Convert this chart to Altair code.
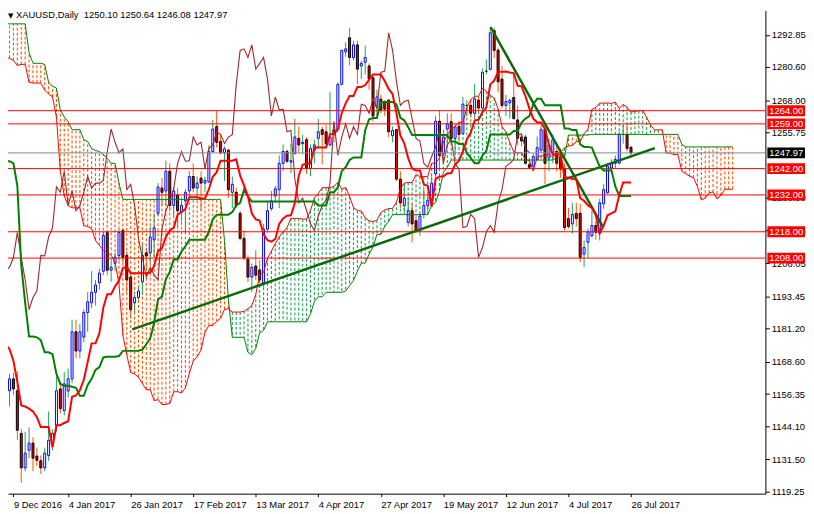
import altair as alt
import numpy as np
import pandas as pd

# ---------------- data (XAUUSD daily, bar 0 = 9 Dec 2016) ----------------
opens = [1170.7, 1157.6, 1162.1, 1157.6, 1141.4, 1128.3, 1135.0, 1137.7, 1132.8, 1131.0,
         1128.3, 1133.0, 1137.0, 1144.5, 1158.3, 1150.0, 1157.5, 1162.1, 1180.0, 1172.7,
         1178.0, 1187.3, 1191.0, 1195.0, 1198.6, 1203.0, 1217.7, 1203.4, 1206.0, 1209.0,
         1218.5, 1209.0, 1200.8, 1191.0, 1193.0, 1199.0, 1210.0, 1210.0, 1215.0, 1225.0,
         1234.6, 1233.5, 1241.0, 1228.0, 1232.0, 1225.5, 1229.7, 1233.5, 1239.0, 1234.6,
         1238.4, 1236.5, 1236.9, 1248.5, 1258.0, 1252.3, 1248.0, 1249.0, 1233.0, 1233.0,
         1225.0, 1215.5, 1207.6, 1200.8, 1205.0, 1203.5, 1198.6, 1219.0, 1226.8, 1231.6,
         1234.0, 1244.0, 1248.5, 1244.5, 1247.7, 1253.5, 1251.5, 1253.0, 1242.0, 1249.0,
         1253.5, 1256.8, 1256.0, 1251.0, 1256.8, 1256.8, 1274.0, 1286.4, 1291.7, 1284.2,
         1289.0, 1281.0, 1282.4, 1281.0, 1276.5, 1265.4, 1268.4, 1267.3, 1268.0, 1254.5,
         1256.8, 1238.0, 1227.9, 1221.5, 1226.0, 1222.2, 1218.5, 1224.6, 1227.9, 1230.5,
         1240.0, 1260.0, 1247.7, 1257.0, 1259.8, 1253.5, 1258.0, 1255.3, 1266.0, 1266.0,
         1263.0, 1268.0, 1265.0, 1279.0, 1279.7, 1294.4, 1287.0, 1276.0, 1266.0, 1267.0,
         1269.0, 1260.5, 1254.0, 1254.0, 1243.5, 1243.0, 1245.5, 1249.0, 1257.0, 1246.0,
         1248.0, 1248.5, 1246.6, 1242.0, 1223.0, 1221.0, 1225.0, 1225.0, 1209.5, 1214.0,
         1216.5, 1220.4, 1217.4, 1228.6, 1232.8, 1242.2, 1244.0, 1244.1, 1255.0, 1254.9,
         1250.10]
highs = [1172.5, 1164.0, 1164.5, 1165.0, 1143.0, 1142.0, 1143.7, 1140.0, 1136.0, 1133.0,
         1136.0, 1149.7, 1143.0, 1163.0, 1161.0, 1164.7, 1166.0, 1184.6, 1184.6, 1183.0,
         1188.5, 1195.0, 1203.0, 1199.7, 1204.0, 1218.0, 1218.5, 1208.0, 1210.0, 1219.0,
         1219.5, 1210.5, 1202.0, 1194.0, 1197.0, 1213.0, 1212.0, 1220.0, 1224.9, 1236.5,
         1238.5, 1245.0, 1244.0, 1235.0, 1234.6, 1231.0, 1234.2, 1241.0, 1244.0, 1239.0,
         1241.0, 1239.0, 1251.0, 1260.5, 1264.0, 1254.9, 1250.4, 1249.6, 1239.0, 1234.6,
         1226.0, 1218.5, 1209.1, 1206.0, 1211.0, 1207.2, 1221.0, 1229.7, 1233.5, 1235.5,
         1247.0, 1251.2, 1249.3, 1251.5, 1260.9, 1257.9, 1254.9, 1254.0, 1251.2, 1253.0,
         1260.9, 1257.9, 1258.5, 1271.1, 1258.0, 1274.8, 1287.2, 1290.0, 1295.5, 1290.6,
         1290.6, 1283.0, 1288.7, 1282.0, 1278.0, 1272.0, 1270.0, 1268.0, 1268.5, 1258.0,
         1257.0, 1241.0, 1236.1, 1231.0, 1228.6, 1224.5, 1225.0, 1234.2, 1232.0, 1239.1,
         1262.0, 1264.0, 1256.8, 1263.0, 1263.0, 1259.0, 1260.0, 1269.2, 1268.0, 1268.0,
         1274.1, 1269.5, 1280.0, 1283.5, 1296.0, 1295.5, 1288.0, 1281.0, 1270.0, 1268.5,
         1278.0, 1266.0, 1255.5, 1254.9, 1246.0, 1247.8, 1254.2, 1258.5, 1258.7, 1253.4,
         1255.0, 1251.5, 1249.6, 1244.0, 1227.1, 1229.0, 1229.0, 1228.6, 1214.7, 1219.2,
         1226.0, 1222.0, 1230.5, 1236.1, 1244.0, 1245.5, 1247.0, 1256.0, 1258.7, 1258.7,
         1250.64]
lows = [1155.5, 1151.6, 1156.0, 1138.8, 1122.6, 1127.0, 1132.0, 1127.0, 1129.0, 1126.0,
        1127.0, 1131.0, 1135.0, 1142.0, 1149.0, 1148.2, 1155.0, 1160.5, 1170.0, 1170.0,
        1176.0, 1180.0, 1189.0, 1190.0, 1196.0, 1201.5, 1201.5, 1199.0, 1203.0, 1207.0,
        1206.0, 1195.0, 1185.0, 1187.0, 1192.0, 1194.0, 1204.0, 1206.0, 1208.3, 1224.0,
        1228.0, 1228.0, 1226.0, 1224.0, 1219.2, 1222.0, 1217.3, 1231.0, 1233.0, 1230.0,
        1226.0, 1233.0, 1236.5, 1248.0, 1250.0, 1247.4, 1237.3, 1230.8, 1227.0, 1227.1,
        1214.7, 1207.2, 1198.9, 1195.0, 1199.7, 1198.5, 1197.0, 1217.7, 1226.0, 1229.0,
        1227.0, 1241.0, 1244.0, 1240.3, 1247.4, 1247.8, 1247.4, 1240.0, 1239.1, 1244.0,
        1249.6, 1243.6, 1250.5, 1250.5, 1252.0, 1256.0, 1273.7, 1284.5, 1281.2, 1283.1,
        1274.1, 1276.0, 1277.8, 1272.0, 1260.0, 1262.0, 1263.0, 1262.0, 1254.0, 1252.0,
        1237.3, 1227.1, 1225.2, 1220.0, 1214.0, 1217.5, 1216.5, 1223.0, 1226.0, 1227.9,
        1237.0, 1242.0, 1246.6, 1250.5, 1251.5, 1247.0, 1252.0, 1254.9, 1262.0, 1261.5,
        1261.7, 1264.0, 1262.8, 1277.8, 1279.3, 1284.0, 1271.0, 1265.0, 1262.0, 1261.0,
        1260.6, 1251.0, 1250.5, 1243.5, 1241.8, 1241.0, 1245.0, 1248.0, 1236.1, 1241.0,
        1244.0, 1241.0, 1238.4, 1218.5, 1219.2, 1217.3, 1220.0, 1206.5, 1204.5, 1208.0,
        1215.8, 1215.0, 1214.7, 1226.7, 1232.4, 1241.0, 1242.0, 1243.6, 1251.5, 1248.5,
        1246.08]
closes = [1157.2, 1162.1, 1158.3, 1142.6, 1128.3, 1133.9, 1137.7, 1132.0, 1131.2, 1128.3,
          1133.9, 1138.8, 1141.4, 1157.6, 1150.8, 1160.2, 1162.1, 1180.0, 1172.7, 1180.0,
          1187.3, 1191.4, 1195.0, 1197.8, 1202.3, 1216.6, 1203.4, 1204.5, 1208.3, 1217.7,
          1208.3, 1199.7, 1188.4, 1193.0, 1195.5, 1209.0, 1208.8, 1216.0, 1219.5, 1235.0,
          1233.0, 1241.0, 1228.0, 1233.5, 1226.0, 1228.0, 1233.0, 1239.0, 1234.6, 1236.5,
          1236.5, 1237.5, 1248.5, 1257.0, 1252.0, 1248.0, 1249.5, 1234.0, 1236.0, 1228.0,
          1215.5, 1208.0, 1200.8, 1204.5, 1201.5, 1199.7, 1219.0, 1226.0, 1229.7, 1234.3,
          1244.0, 1248.5, 1244.8, 1245.0, 1254.0, 1251.0, 1252.0, 1242.0, 1249.6, 1251.0,
          1256.0, 1255.0, 1251.5, 1254.0, 1254.9, 1274.0, 1286.9, 1287.5, 1284.2, 1289.0,
          1279.8, 1282.0, 1284.2, 1276.0, 1262.0, 1269.2, 1264.3, 1264.6, 1256.0, 1256.5,
          1238.0, 1229.0, 1230.8, 1226.0, 1221.0, 1218.5, 1224.0, 1228.0, 1230.0, 1236.5,
          1260.0, 1247.0, 1254.0, 1259.0, 1253.5, 1257.9, 1255.0, 1266.5, 1266.0, 1263.0,
          1268.5, 1265.0, 1278.6, 1279.0, 1293.6, 1286.9, 1275.0, 1266.0, 1267.5, 1268.0,
          1261.0, 1253.5, 1252.5, 1244.0, 1242.5, 1246.6, 1250.0, 1256.8, 1244.0, 1251.0,
          1253.0, 1244.0, 1241.8, 1219.6, 1220.0, 1224.6, 1223.0, 1208.3, 1212.0, 1218.0,
          1220.4, 1217.8, 1229.0, 1234.0, 1242.9, 1244.0, 1245.5, 1255.0, 1255.0, 1249.7,
          1247.97]

# Ichimoku values before enough history is visible
tenkan_early = [1175.2, 1173.4, 1168.9, 1161.0, 1152.0, 1151.6, 1150.8, 1149.7]
kijun_early = [1244.8, 1244.8, 1244.0, 1235.4, 1205.3, 1191.0, 1178.2, 1178.2, 1177.9, 1176.8,
               1172.2, 1172.2, 1171.5, 1164.0, 1160.2, 1159.5, 1159.5, 1159.1, 1158.7, 1155.7,
               1155.7, 1159.8, 1162.1, 1165.5, 1166.6]
spanA_early = [1284.2, 1283.9, 1283.1, 1281.2, 1281.6, 1281.6, 1274.8, 1274.5, 1274.5, 1274.5,
               1271.8, 1270.3, 1269.2, 1261.7, 1241.0, 1231.6, 1227.9, 1227.1, 1227.1, 1227.1,
               1220.3, 1220.0, 1219.2, 1214.7, 1212.8, 1211.0]
spanB_early = ([1297.0] * 6 + [1286.1] + [1282.0] * 3 + [1281.6, 1274.8, 1273.3, 1272.6,
               1264.3, 1261.7, 1259.8] + [1256.8] * 3 + [1253.0, 1252.3, 1249.6, 1248.9,
               1248.5, 1247.4, 1245.9, 1244.0, 1244.0, 1236.5] + [1230.3] * 26 +
               [1214.7, 1192.2] + [1177.9] * 4 + [1172.2])

levels = [1264.0, 1259.0, 1242.0, 1232.0, 1218.0, 1208.0]
last_price = 1247.97

trend_up_bars = [32.4, 166.1]
trend_up_prices = [1180.9, 1249.8]
trend_dn_bars = [124.1, 152.9]
trend_dn_prices = [1295.7, 1219.7]

y_ticks = [1292.85, 1280.60, 1268.00, 1255.75, 1230.90, 1218.65, 1206.05,
           1193.45, 1181.20, 1168.60, 1156.35, 1144.10, 1131.50, 1119.25]
x_tick_bars = [2, 16, 32, 48, 64, 80, 96, 112, 128, 144, 160]
x_tick_labels = ["9 Dec 2016", "4 Jan 2017", "26 Jan 2017", "17 Feb 2017", "13 Mar 2017",
                 "4 Apr 2017", "27 Apr 2017", "19 May 2017", "12 Jun 2017", "4 Jul 2017",
                 "26 Jul 2017"]
title_text = "XAUUSD,Daily\u00a0 1250.10 1250.64 1246.08 1247.97"

# ---------------- indicator computation ----------------
N = len(closes)
hi = pd.Series(highs)
lo = pd.Series(lows)
tenkan = ((hi.rolling(9).max() + lo.rolling(9).min()) / 2).to_numpy()
tenkan[:8] = tenkan_early
kijun = ((hi.rolling(26).max() + lo.rolling(26).min()) / 2).to_numpy()
kijun[:25] = kijun_early
D = N + 26
spanA = np.empty(D)
spanA[:26] = spanA_early
spanA[26:] = (tenkan + kijun) / 2
hi52 = hi.rolling(52, min_periods=1).max().to_numpy()
lo52 = lo.rolling(52, min_periods=1).min().to_numpy()
spanB = np.empty(D)
spanB[:len(spanB_early)] = spanB_early
for d in range(len(spanB_early), D):
    spanB[d] = (hi52[d - 26] + lo52[d - 26]) / 2

candles = pd.DataFrame({"bar": np.arange(N), "open": opens, "high": highs,
                        "low": lows, "close": closes})
candles["dir"] = np.where(candles.close > candles.open, "up",
                          np.where(candles.close < candles.open, "down", "doji"))
lines_df = pd.DataFrame({"bar": np.arange(N), "tenkan": tenkan, "kijun": kijun})
cloud = pd.DataFrame({"d": np.arange(D), "a": spanA, "b": spanB})
cloud["kind"] = np.where(cloud.a >= cloud.b, "bull", "bear")
chikou = pd.DataFrame({"bar": np.arange(N - 26), "v": closes[26:]})
trends = pd.DataFrame({"bar": trend_up_bars + trend_dn_bars,
                       "p": trend_up_prices + trend_dn_prices,
                       "name": ["up", "up", "dn", "dn"]})
boxes = pd.DataFrame({"price": levels + [last_price],
                      "label": [f"{v:.2f}" for v in levels] + [f"{last_price:.2f}"],
                      "fill": ["#FF0000"] * len(levels) + ["#000000"]})
title_df = pd.DataFrame({"t": [title_text]})

# ---------------- scales / axes ----------------
FONT = "Liberation Sans"
FS = 9.5
xscale = alt.Scale(domain=[1.875, 193.125], nice=False, zero=False)
yscale = alt.Scale(domain=[1118.5, 1302.07], nice=False, zero=False)
labels_js = "[" + ",".join(f"'{s}'" for s in x_tick_labels) + "]"
values_js = "[" + ",".join(str(v) for v in x_tick_bars) + "]"
xaxis = alt.Axis(values=x_tick_bars, labelExpr=f"{labels_js}[indexof({values_js}, datum.value)]",
                 orient="bottom", grid=False, domainColor="black", tickColor="black",
                 tickSize=3, labelAlign="left", labelBaseline="top", labelPadding=3,
                 labelFont=FONT, labelFontSize=FS, labelColor="black", labelFlush=False,
                 labelOverlap=False, labelBound=False, title=None)
yaxis = alt.Axis(values=y_ticks, format=".2f", orient="right", grid=False,
                 domainColor="black", tickColor="black", tickSize=4, labelPadding=2,
                 labelFont=FONT, labelFontSize=FS, labelColor="black", labelFlush=False,
                 labelOverlap=False, labelBound=False, title=None)


def X(f):
    return alt.X(f"{f}:Q", scale=xscale, axis=xaxis)


def Y(f):
    return alt.Y(f"{f}:Q", scale=yscale, axis=yaxis)


hatch = alt.Chart(cloud).mark_rule(strokeWidth=1.1, strokeDash=[3, 2], clip=True).encode(
    x=X("d"), y=Y("a"), y2="b",
    color=alt.Color("kind:N", scale=alt.Scale(domain=["bull", "bear"],
                                              range=["#1FA354", "#FF5500"]), legend=None))
spanA_line = alt.Chart(cloud).mark_line(color="#FF0000", strokeWidth=1, clip=True).encode(
    x=X("d"), y=Y("a"))
spanB_line = alt.Chart(cloud).mark_line(color="#008000", strokeWidth=1, clip=True).encode(
    x=X("d"), y=Y("b"))
chikou_line = alt.Chart(chikou).mark_line(color="#A0282A", strokeWidth=1.1, clip=True).encode(
    x=X("bar"), y=Y("v"))

dir_dom = ["up", "down", "doji"]
wicks = alt.Chart(candles).mark_rule(strokeWidth=1, clip=True).encode(
    x=X("bar"), y=Y("low"), y2="high",
    color=alt.Color("dir:N", scale=alt.Scale(domain=dir_dom,
                                             range=["#0000FF", "#000000", "#000000"]),
                    legend=None))
bodies = alt.Chart(candles).mark_bar(width=2, strokeWidth=1, clip=True).encode(
    x=X("bar"), y=Y("open"), y2="close",
    fill=alt.Fill("dir:N", scale=alt.Scale(domain=dir_dom,
                                           range=["#FFFFFF", "#FF0000", "#000000"]),
                  legend=None),
    stroke=alt.Stroke("dir:N", scale=alt.Scale(domain=dir_dom,
                                               range=["#0000FF", "#000000", "#000000"]),
                      legend=None))

level_rules = alt.Chart(pd.DataFrame({"level": levels})).mark_rule(
    color="#FF0000", strokeWidth=1).encode(y=Y("level"))
last_rule = alt.Chart(pd.DataFrame({"level": [last_price]})).mark_rule(
    color="#7A8A9A", strokeWidth=1).encode(y=Y("level"))

trend_lines = alt.Chart(trends).mark_line(color="#0A6A0A", strokeWidth=2.5, clip=True).encode(
    x=X("bar"), y=Y("p"), detail="name:N")
kijun_line = alt.Chart(lines_df).mark_line(color="#008000", strokeWidth=2, clip=True).encode(
    x=X("bar"), y=Y("kijun"))
tenkan_line = alt.Chart(lines_df).mark_line(color="#FF0000", strokeWidth=2, clip=True).encode(
    x=X("bar"), y=Y("tenkan"))

box_shape = "M-1,-0.29L1,-0.29L1,0.29L-1,0.29Z"
box_marks = alt.Chart(boxes).mark_point(shape=box_shape, size=38 * 38, filled=True,
                                        opacity=1, strokeWidth=0, clip=False).encode(
    x=alt.value(786), y=Y("price"), color=alt.Color("fill:N", scale=None))
box_text = alt.Chart(boxes).mark_text(font=FONT, fontSize=FS, color="white", align="center",
                                      baseline="middle", clip=False).encode(
    x=alt.value(786), y=Y("price"), text="label:N")

tri = alt.Chart(title_df).mark_text(font="DejaVu Sans", fontSize=7, color="black",
                                    align="left", baseline="top").encode(
    x=alt.value(0), y=alt.value(2), text=alt.value("\u25BC"))
title_mark = alt.Chart(title_df).mark_text(font=FONT, fontSize=FS, color="black",
                                           align="left", baseline="top").encode(
    x=alt.value(8), y=alt.value(0), text="t:N")

chart = alt.layer(
    hatch, wicks, bodies, spanA_line, spanB_line, chikou_line, level_rules, last_rule,
    trend_lines, kijun_line, tenkan_line, box_marks, box_text, tri, title_mark
).properties(
    width=765, height=488,
    autosize=alt.AutoSizeParams(type="none"),
    padding={"left": 0, "top": 0, "right": 41, "bottom": 16},
    background="white",
).configure_view(stroke=None)

chart.save("out.html", embed_options={"renderer": "svg", "actions": False})
